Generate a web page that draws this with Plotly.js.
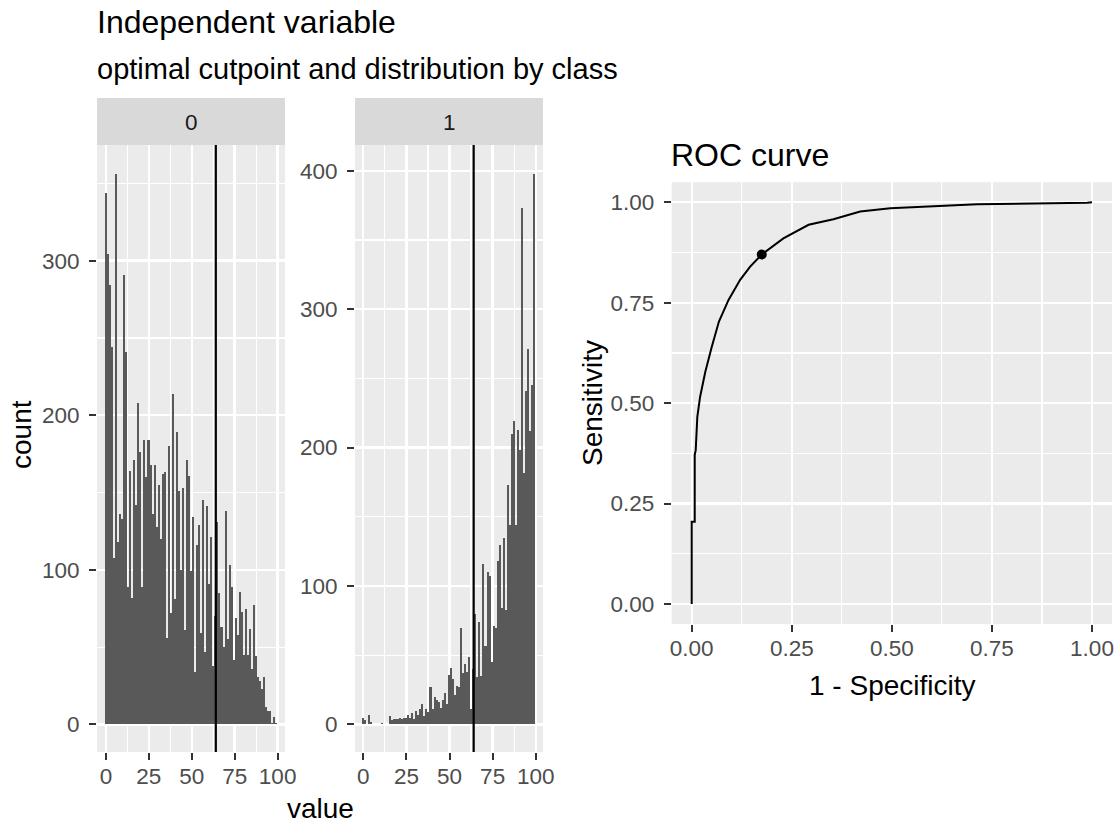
<!DOCTYPE html>
<html><head><meta charset="utf-8">
<script src="https://cdn.plot.ly/plotly-3.0.1.min.js"></script>
<style>html,body{margin:0;padding:0;background:#fff}#chart{width:1119px;height:825px}</style>
</head><body><div id="chart"></div>
<script>
// ---------- data ----------
const classLabels = ["0", "1"];
const class0Counts = [344, 304, 284, 244, 108, 356, 118, 136, 133, 291, 241, 89, 164, 82, 171, 142, 208, 176, 89, 184,
  160, 184, 168, 136, 168, 128, 155, 120, 162, 163, 56, 180, 72, 214, 81, 189, 151, 100, 153, 61,
  171, 161, 99, 134, 34, 116, 129, 59, 145, 47, 141, 91, 121, 38, 70, 131, 85, 63, 50, 138,
  55, 103, 89, 42, 69, 58, 86, 73, 45, 75, 45, 62, 36, 77, 44, 31, 28, 23, 31, 11,
  9, 9, 1, 5, 1];
const class1Counts = [5, 3, 0, 7, 2, 0, 0, 0, 0, 1, 0, 0, 0, 6, 3, 4, 4, 4, 5, 4,
  5, 5, 7, 5, 8, 4, 10, 7, 11, 15, 6, 11, 9, 27, 11, 20, 18, 16, 12, 18,
  23, 15, 36, 41, 33, 21, 28, 27, 70, 37, 44, 38, 49, 11, 40, 80, 34, 74, 35, 116,
  57, 110, 107, 45, 71, 70, 118, 130, 84, 135, 83, 173, 144, 210, 219, 144, 213, 198, 373, 182,
  241, 271, 212, 245, 398];
const binStart = -0.6, binEnd = 99.8;
const cutpoint = 64;
const rocFpr = [0, 0, 0.0075, 0.0075, 0.010, 0.014, 0.021, 0.034, 0.050, 0.068, 0.092, 0.121, 0.146, 0.175, 0.229, 0.292, 0.354, 0.421, 0.496, 0.596, 0.713, 0.988, 1.0];
const rocTpr = [0, 0.205, 0.205, 0.371, 0.383, 0.466, 0.516, 0.578, 0.640, 0.703, 0.757, 0.807, 0.840, 0.870, 0.910, 0.944, 0.958, 0.977, 0.985, 0.989, 0.995, 0.999, 1.0];
const optFpr = [0.175], optTpr = [0.870];
const histXTicks = [0, 25, 50, 75, 100];
const histXMinor = [12.5, 37.5, 62.5, 87.5];
const count0Ticks = [0, 100, 200, 300], count0Minor = [50, 150, 250, 350];
const count1Ticks = [0, 100, 200, 300, 400], count1Minor = [50, 150, 250, 350];
const rocTicks = [0, 0.25, 0.5, 0.75, 1], rocTickText = ["0.00", "0.25", "0.50", "0.75", "1.00"];
const rocMinor = [0.125, 0.375, 0.625, 0.875];

// ---------- helpers ----------
const W = 1119, H = 825;
const px = x => x / W, py = y => 1 - y / H;
function centers(counts) {
  const w = (binEnd - binStart) / counts.length;
  return counts.map((_, i) => binStart + (i + 0.5) * w);
}
const FONT = "Liberation Sans, Arial, sans-serif";
const BAR = "#595959";
const TICK = 22.5, AXT = 28, TITLE = 32, SUB = 29, STRIP = 22.5;

const traces = [
  {type: "bar", x: centers(class0Counts), y: class0Counts, width: (binEnd - binStart) / class0Counts.length,
   marker: {color: BAR, line: {width: 0}}, xaxis: "x", yaxis: "y", hoverinfo: "x+y"},
  {type: "bar", x: centers(class1Counts), y: class1Counts, width: (binEnd - binStart) / class1Counts.length,
   marker: {color: BAR, line: {width: 0}}, xaxis: "x2", yaxis: "y2", hoverinfo: "x+y"},
  {type: "scatter", mode: "lines", x: rocFpr, y: rocTpr, line: {color: "#000", width: 2, shape: "linear"},
   xaxis: "x3", yaxis: "y3"},
  {type: "scatter", mode: "markers", x: optFpr, y: optTpr, marker: {color: "#000", size: 10},
   xaxis: "x3", yaxis: "y3"}
];

function axisBase(extra) {
  return Object.assign({
    ticks: "outside", ticklen: 7, tickwidth: 2, tickcolor: "#333333", ticklabelstandoff: 5,
    tickfont: {family: FONT, size: TICK, color: "#4D4D4D"},
    showgrid: true, gridcolor: "#FFFFFF", gridwidth: 2.4,
    zeroline: false, showline: false, fixedrange: true, tickmode: "array"
  }, extra);
}
function minor(vals) {
  return {tickmode: "array", tickvals: vals, showgrid: true, gridcolor: "#FFFFFF", gridwidth: 1.2, ticks: ""};
}
const XSTAND = -3;

const layout = {
  width: W, height: H, margin: {l: 0, r: 0, t: 0, b: 0},
  paper_bgcolor: "#FFFFFF", plot_bgcolor: "#EBEBEB", showlegend: false, bargap: 0,
  font: {family: FONT, color: "#000"},
  xaxis: axisBase({domain: [px(97), px(285)], range: [-5.2, 104.3], tickvals: histXTicks, ticktext: histXTicks.map(String), minor: minor(histXMinor), anchor: "y", ticklabelstandoff: XSTAND}),
  yaxis: axisBase({domain: [py(752), py(145)], range: [-17.8, 374.8], tickvals: count0Ticks, ticktext: count0Ticks.map(String), minor: minor(count0Minor), anchor: "x"}),
  xaxis2: axisBase({domain: [px(355), px(543)], range: [-4.8, 104.2], tickvals: histXTicks, ticktext: histXTicks.map(String), minor: minor(histXMinor), anchor: "y2", ticklabelstandoff: XSTAND}),
  yaxis2: axisBase({domain: [py(752), py(145)], range: [-19.9, 418.6], tickvals: count1Ticks, ticktext: count1Ticks.map(String), minor: minor(count1Minor), anchor: "x2"}),
  xaxis3: axisBase({domain: [px(671.7), px(1112)], range: [-0.05, 1.05], tickvals: rocTicks, ticktext: rocTickText, minor: minor(rocMinor), anchor: "y3", ticklabelstandoff: XSTAND}),
  yaxis3: axisBase({domain: [py(624.1), py(182.2)], range: [-0.05, 1.05], tickvals: rocTicks, ticktext: rocTickText, minor: minor(rocMinor), anchor: "x3"}),
  shapes: [
    {type: "rect", xref: "paper", yref: "paper", x0: px(97), x1: px(285), y0: py(145), y1: py(98), fillcolor: "#D9D9D9", line: {width: 0}},
    {type: "rect", xref: "paper", yref: "paper", x0: px(355), x1: px(543), y0: py(145), y1: py(98), fillcolor: "#D9D9D9", line: {width: 0}},
    {type: "line", xref: "x", yref: "y domain", x0: cutpoint, x1: cutpoint, y0: 0, y1: 1, line: {color: "#000", width: 2.2}},
    {type: "line", xref: "x2", yref: "y2 domain", x0: cutpoint, x1: cutpoint, y0: 0, y1: 1, line: {color: "#000", width: 2.2}}
  ],
  annotations: [
    {text: "Independent variable", xref: "paper", yref: "paper", x: px(95), y: py(22), xanchor: "left", yanchor: "middle", showarrow: false, font: {family: FONT, size: TITLE, color: "#000"}},
    {text: "optimal cutpoint and distribution by class", xref: "paper", yref: "paper", x: px(95), y: py(69), xanchor: "left", yanchor: "middle", showarrow: false, font: {family: FONT, size: SUB, color: "#000"}},
    {text: classLabels[0], xref: "paper", yref: "paper", x: px(191), y: py(122), xanchor: "center", yanchor: "middle", showarrow: false, font: {family: FONT, size: STRIP, color: "#1A1A1A"}},
    {text: classLabels[1], xref: "paper", yref: "paper", x: px(449), y: py(122), xanchor: "center", yanchor: "middle", showarrow: false, font: {family: FONT, size: STRIP, color: "#1A1A1A"}},
    {text: "count", xref: "paper", yref: "paper", x: px(22), y: py(435), xanchor: "center", yanchor: "middle", textangle: -90, showarrow: false, font: {family: FONT, size: AXT, color: "#000"}},
    {text: "value", xref: "paper", yref: "paper", x: px(320), y: 0, xanchor: "center", yanchor: "bottom", borderpad: 0, showarrow: false, font: {family: FONT, size: AXT, color: "#000"}},
    {text: "ROC curve", xref: "paper", yref: "paper", x: px(669), y: py(155), xanchor: "left", yanchor: "middle", showarrow: false, font: {family: FONT, size: TITLE, color: "#000"}},
    {text: "Sensitivity", xref: "paper", yref: "paper", x: px(592), y: py(403), xanchor: "center", yanchor: "middle", textangle: -90, showarrow: false, font: {family: FONT, size: AXT, color: "#000"}},
    {text: "1 - Specificity", xref: "paper", yref: "paper", x: px(892), y: py(685), xanchor: "center", yanchor: "middle", showarrow: false, font: {family: FONT, size: AXT, color: "#000"}}
  ]
};

Plotly.newPlot("chart", traces, layout, {displayModeBar: false, staticPlot: true});
</script></body></html>
